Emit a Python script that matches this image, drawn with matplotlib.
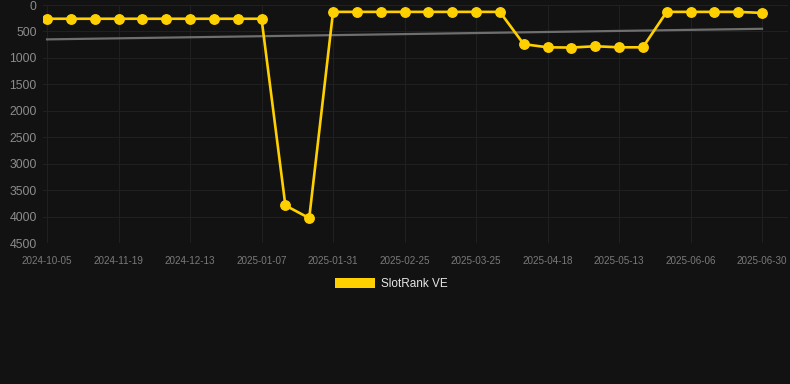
import matplotlib
matplotlib.use("Agg")
import matplotlib.pyplot as plt
from matplotlib.patches import Patch

# ---- data ----
ranks = [260, 260, 260, 260, 260, 260, 260, 260, 260, 260,
         3790, 4030,
         130, 130, 130, 130, 130, 130, 130, 130,
         740, 800, 805, 780, 800, 800,
         130, 130, 130, 130, 150]
tick_labels = ["2024-10-05", "2024-11-19", "2024-12-13", "2025-01-07",
               "2025-01-31", "2025-02-25", "2025-03-25", "2025-04-18",
               "2025-05-13", "2025-06-06", "2025-06-30"]
trend_ends = [650, 450]
series_name = "SlotRank VE"

# ---- style ----
plt.rcParams["font.family"] = ["Liberation Sans", "DejaVu Sans"]
bg = "#121212"
yellow = "#FFD000"
grid_c = "#202020"

fig = plt.figure(figsize=(7.9, 3.84), dpi=100, facecolor=bg)
ax = fig.add_axes([43 / 790, 1 - 243 / 384, 745 / 790, 238 / 384], facecolor=bg)

x = list(range(len(ranks)))
ax.plot([x[0], x[-1]], trend_ends, color="#6e6e6e", lw=1.6, zorder=2)
ax.plot(x, ranks, color=yellow, lw=1.9, marker="o", ms=6.8, zorder=3)

ax.set_ylim(4500, 0)
ax.set_xlim(-0.17, 31.09)
ax.set_yticks(range(0, 4501, 500))
step = (len(ranks) - 1) // (len(tick_labels) - 1)
ax.set_xticks(x[::step])
ax.set_xticklabels(tick_labels)

ax.grid(True, color=grid_c, lw=0.8)
ax.set_axisbelow(True)
for s in ax.spines.values():
    s.set_visible(False)
ax.tick_params(axis="y", length=0, pad=4.5, labelsize=8.8, labelcolor="#8c8c8c")
ax.tick_params(axis="x", length=0, pad=9, labelsize=7.1, labelcolor="#7a7a7a")

fig.legend(handles=[Patch(facecolor=yellow, edgecolor="none", label=series_name)],
           loc="center", bbox_to_anchor=(0.495, 1 - 284 / 384), frameon=False,
           handlelength=3.4, handleheight=1.0, handletextpad=0.5,
           fontsize=8.5, labelcolor="#e6e6e6")

fig.savefig("out.png", dpi=100, facecolor=bg)
